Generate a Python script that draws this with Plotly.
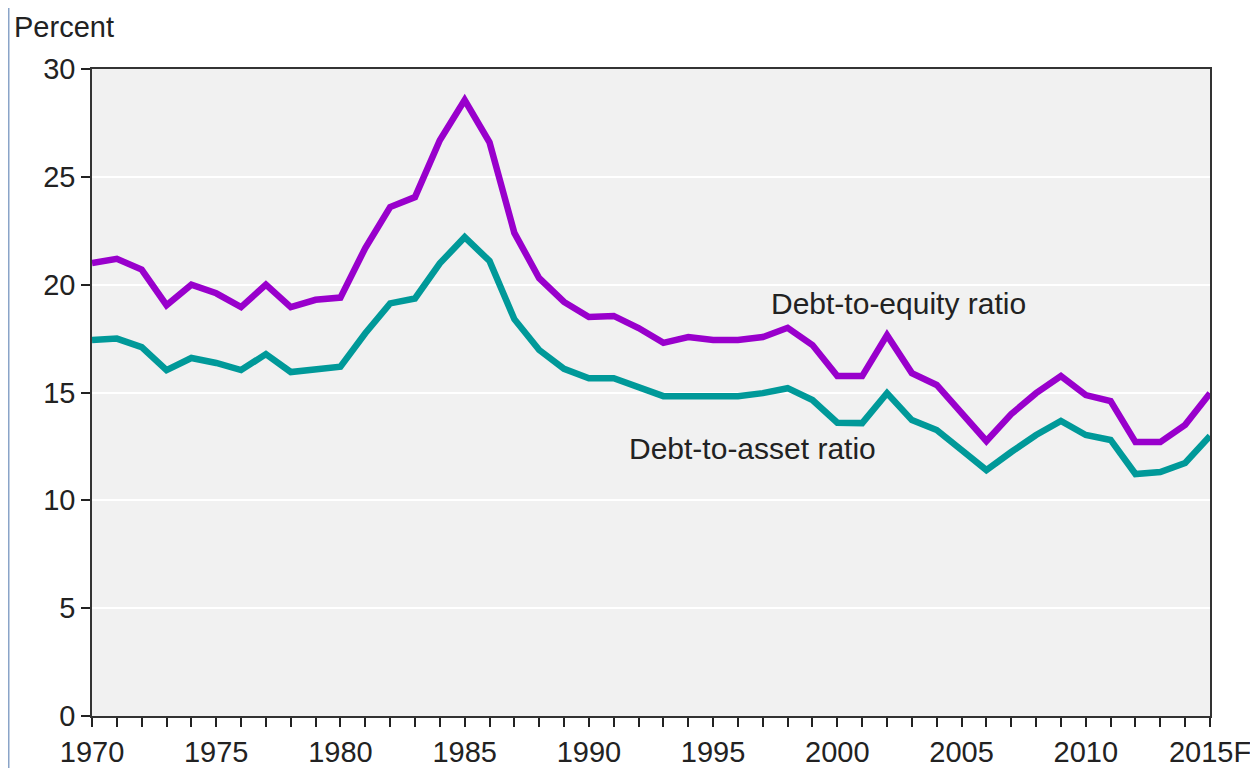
import plotly.graph_objects as go

years = list(range(1970, 2016))
debt_to_equity = [21.0, 21.2, 20.7, 19.05, 20.0, 19.6, 18.96, 20.0, 18.96, 19.3,
                  19.4, 21.7, 23.6, 24.06, 26.7, 28.56, 26.6, 22.4, 20.3, 19.2,
                  18.5, 18.55, 17.99, 17.3, 17.57, 17.43, 17.43, 17.57, 18.0, 17.2,
                  15.76, 15.76, 17.66, 15.9, 15.35, 14.0, 12.75, 14.0, 14.97, 15.76,
                  14.88, 14.6, 12.7, 12.7, 13.5, 14.97]
debt_to_asset = [17.43, 17.5, 17.1, 16.04, 16.6, 16.37, 16.04, 16.78, 15.95, 16.1,
                 16.2, 17.75, 19.13, 19.36, 20.99, 22.2, 21.1, 18.4, 16.97, 16.1,
                 15.66, 15.66, 15.25, 14.83, 14.83, 14.83, 14.83, 14.97, 15.2, 14.65,
                 13.6, 13.58, 14.97, 13.72, 13.26, 12.33, 11.4, 12.24, 13.03, 13.68,
                 13.03, 12.8, 11.22, 11.31, 11.73, 12.98]
x_tick_vals = [1970, 1975, 1980, 1985, 1990, 1995, 2000, 2005, 2010, 2015]
x_tick_text = ["1970", "1975", "1980", "1985", "1990", "1995", "2000", "2005", "2010", "2015F"]
y_tick_vals = [0, 5, 10, 15, 20, 25, 30]

FONT = "Liberation Sans, Arial, sans-serif"
W, H = 1250, 760  # page adds an 8px body margin
fig = go.Figure()
fig.add_trace(go.Scatter(x=years, y=debt_to_equity, mode="lines",
                         line=dict(color="#9900cc", width=6.5), name="Debt-to-equity ratio"))
fig.add_trace(go.Scatter(x=years, y=debt_to_asset, mode="lines",
                         line=dict(color="#009999", width=6.5), name="Debt-to-asset ratio"))

fig.update_layout(
    width=W, height=H,
    margin=dict(l=84, r=48, t=61, b=52),
    paper_bgcolor="white", plot_bgcolor="#f1f1f1",
    showlegend=False,
    font=dict(family=FONT, size=29, color="#222"),
    xaxis=dict(range=[1970, 2015], tickvals=x_tick_vals, ticktext=x_tick_text,
               ticks="outside", ticklen=9, tickcolor="#222", tickwidth=1.5,
               showgrid=False, zeroline=False, showline=True, linecolor="#333",
               linewidth=1.5, mirror=True, tickfont=dict(size=29), automargin=False,
               minor=dict(dtick=1, ticks="outside", ticklen=9, tickcolor="#222",
                          tickwidth=1.5, showgrid=False)),
    yaxis=dict(range=[0, 30], tickvals=y_tick_vals, ticks="outside", ticklen=9,
               tickcolor="#222", tickwidth=1.5, showgrid=True, gridcolor="white",
               gridwidth=2, zeroline=False, showline=True, linecolor="#333",
               linewidth=1.5, mirror=True, tickfont=dict(size=29), automargin=False),
)

fig.add_annotation(x=2002.45, y=19.15, text="Debt-to-equity ratio", showarrow=False,
                   font=dict(size=30, color="#222"))
fig.add_annotation(x=1996.57, y=12.42, text="Debt-to-asset ratio", showarrow=False,
                   font=dict(size=30, color="#222"))
fig.add_annotation(xref="paper", yref="paper", x=(4 - 84) / 1118, y=(708 - 1) / 647,
                   text="Percent", showarrow=False, xanchor="left", yanchor="top",
                   font=dict(size=29, color="#222"))

for xp in [(0.5 - 84) / 1118, (1248 - 84) / 1118]:
    fig.add_shape(type="line", xref="paper", yref="paper", x0=xp, x1=xp, y0=-0.2, y1=1.2,
                  line=dict(color="#8aa4c8", width=2))

fig.write_html("out.html")
